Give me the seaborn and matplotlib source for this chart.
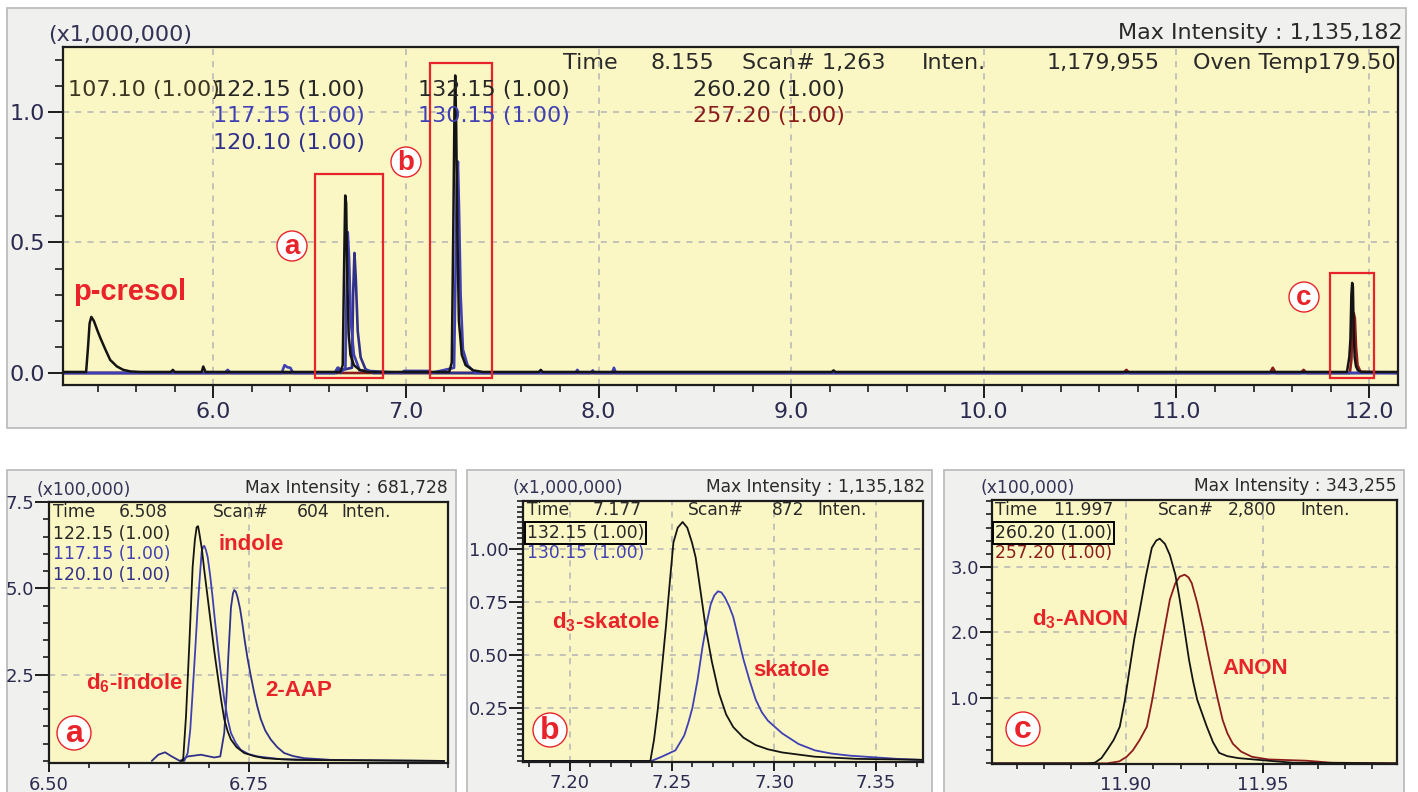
import matplotlib
matplotlib.use("Agg")
import matplotlib.pyplot as plt
import seaborn as sns
from matplotlib.patches import Rectangle, Circle
from matplotlib.ticker import MultipleLocator, FixedLocator, FuncFormatter

# ---------------- data ----------------
# top overview chromatogram, intensity in x1,000,000, time in min
top_black = [(5.22, 0.004), (5.34, 0.004), (5.35, 0.10), (5.358, 0.19), (5.367, 0.215), (5.38, 0.20),
             (5.40, 0.16), (5.414, 0.134), (5.44, 0.09), (5.465, 0.05), (5.50, 0.025), (5.533, 0.012),
             (5.57, 0.006), (5.62, 0.004), (5.78, 0.004), (5.79, 0.012), (5.80, 0.004), (5.94, 0.004),
             (5.948, 0.025), (5.96, 0.004), (6.66, 0.004), (6.672, 0.03), (6.678, 0.35), (6.685, 0.68),
             (6.690, 0.65), (6.696, 0.35), (6.703, 0.15), (6.712, 0.07), (6.73, 0.03), (6.76, 0.012),
             (6.80, 0.004), (7.225, 0.004), (7.238, 0.04), (7.246, 0.55), (7.252, 1.0), (7.256, 1.14),
             (7.261, 0.95), (7.267, 0.55), (7.275, 0.2), (7.29, 0.07), (7.31, 0.03), (7.35, 0.01),
             (7.40, 0.004), (7.69, 0.004), (7.70, 0.012), (7.71, 0.004), (9.21, 0.004), (9.22, 0.01),
             (9.23, 0.004), (11.885, 0.004), (11.897, 0.06), (11.903, 0.13), (11.908, 0.30), (11.912, 0.345),
             (11.916, 0.33), (11.92, 0.16), (11.925, 0.06), (11.932, 0.025), (11.942, 0.01), (11.96, 0.004),
             (12.15, 0.004)]
top_blue = [(5.22, 0.0), (6.06, 0.0), (6.075, 0.012), (6.09, 0.0), (6.355, 0.0), (6.37, 0.03), (6.385, 0.022),
            (6.40, 0.02), (6.415, 0.0), (6.63, 0.0), (6.645, 0.02), (6.66, 0.0), (6.686, 0.02), (6.692, 0.30),
            (6.698, 0.54), (6.705, 0.44), (6.714, 0.20), (6.73, 0.07), (6.76, 0.01), (6.98, 0.0), (6.99, 0.008),
            (7.12, 0.008), (7.13, 0.0), (7.25, 0.02), (7.258, 0.40), (7.264, 0.72), (7.270, 0.81), (7.276, 0.62),
            (7.284, 0.30), (7.296, 0.09), (7.32, 0.03), (7.36, 0.0), (7.88, 0.0), (7.89, 0.012), (7.90, 0.0),
            (7.96, 0.0), (7.97, 0.01), (7.98, 0.0), (8.07, 0.0), (8.08, 0.02), (8.09, 0.0), (12.15, 0.0)]
top_navy = [(5.22, 0.0), (6.64, 0.0), (6.65, 0.02), (6.66, 0.01), (6.72, 0.02), (6.726, 0.30), (6.733, 0.46),
            (6.74, 0.36), (6.75, 0.16), (6.765, 0.06), (6.79, 0.015), (6.83, 0.0), (12.15, 0.0)]
top_red = [(5.22, 0.0), (10.725, 0.0), (10.74, 0.012), (10.755, 0.0), (11.485, 0.0), (11.50, 0.02),
           (11.515, 0.0), (11.645, 0.0), (11.66, 0.012), (11.675, 0.0), (11.90, 0.0), (11.908, 0.05),
           (11.914, 0.2), (11.92, 0.23), (11.926, 0.21), (11.932, 0.1), (11.94, 0.03), (11.955, 0.005),
           (12.15, 0.0)]

# panel a (x100,000)
a_d6_indole = [(6.665, 0.0), (6.668, 0.0), (6.6717, 1.30), (6.6758, 3.36), (6.68, 5.62), (6.6828, 6.40),
               (6.685, 6.77), (6.6868, 6.80), (6.688, 6.65), (6.6915, 6.15), (6.6946, 5.52), (6.699, 4.70),
               (6.703, 3.95), (6.707, 3.20), (6.7113, 2.48), (6.7155, 1.80), (6.7196, 1.21), (6.724, 0.85),
               (6.728, 0.62), (6.735, 0.40), (6.7446, 0.23), (6.757, 0.14), (6.77, 0.08), (6.79, 0.05),
               (6.81, 0.03), (6.995, 0.0)]
a_indole = [(6.6696, 0.0), (6.6738, 0.23), (6.677, 0.90), (6.68, 1.99), (6.6832, 3.20), (6.6863, 4.44),
            (6.6892, 5.40), (6.6913, 6.06), (6.693, 6.20), (6.6946, 6.23), (6.6965, 6.12), (6.6988, 5.91),
            (6.7018, 5.40), (6.705, 4.74), (6.708, 4.05), (6.7113, 3.36), (6.7155, 2.50), (6.7196, 1.79),
            (6.724, 1.20), (6.728, 0.81), (6.734, 0.52), (6.7404, 0.32), (6.750, 0.20), (6.7613, 0.13),
            (6.7904, 0.05), (6.853, 0.03)]
a_2aap = [(6.6288, 0.0), (6.637, 0.18), (6.6454, 0.25), (6.6538, 0.13), (6.664, 0.0), (6.674, 0.13),
          (6.6904, 0.18), (6.707, 0.10), (6.7146, 0.13), (6.7196, 0.81), (6.7225, 1.90), (6.7246, 2.97),
          (6.728, 4.44), (6.7305, 4.85), (6.7321, 4.95), (6.7342, 4.90), (6.7363, 4.74), (6.7395, 4.40),
          (6.7425, 3.95), (6.7455, 3.45), (6.7488, 2.97), (6.753, 2.45), (6.757, 1.99), (6.761, 1.58),
          (6.7654, 1.21), (6.771, 0.88), (6.7779, 0.62), (6.786, 0.40), (6.7946, 0.23), (6.806, 0.14),
          (6.8196, 0.08), (6.853, 0.03), (6.9954, 0.0)]

# panel b (x1,000,000)
b_d3_skatole = [(7.177, 0.0), (7.2394, 0.0), (7.2412, 0.10), (7.243, 0.24), (7.245, 0.43), (7.247, 0.63),
                (7.249, 0.85), (7.2507, 1.03), (7.2528, 1.10), (7.2552, 1.127), (7.2575, 1.10), (7.2598, 1.03),
                (7.2616, 0.96), (7.264, 0.80), (7.2665, 0.63), (7.2695, 0.47), (7.273, 0.32), (7.2765, 0.22),
                (7.280, 0.16), (7.285, 0.11), (7.291, 0.075), (7.297, 0.055), (7.304, 0.04), (7.312, 0.03),
                (7.32, 0.02), (7.34, 0.01), (7.373, 0.005)]
b_skatole = [(7.177, 0.0), (7.24, 0.0), (7.245, 0.02), (7.2517, 0.05), (7.256, 0.12), (7.258, 0.18),
             (7.260, 0.25), (7.2625, 0.38), (7.265, 0.54), (7.267, 0.65), (7.269, 0.74), (7.2707, 0.78),
             (7.2725, 0.80), (7.2742, 0.795), (7.276, 0.77), (7.278, 0.73), (7.28, 0.68), (7.2825, 0.58),
             (7.285, 0.48), (7.288, 0.38), (7.291, 0.29), (7.294, 0.23), (7.297, 0.19), (7.304, 0.13),
             (7.312, 0.08), (7.320, 0.05), (7.328, 0.035), (7.337, 0.025), (7.36, 0.01), (7.373, 0.005)]

# panel c (x100,000)
c_d3_anon = [(11.851, 0.0), (11.886, 0.0), (11.8886, 0.01), (11.891, 0.08), (11.893, 0.2), (11.8955, 0.36),
             (11.8977, 0.56), (11.8995, 0.95), (11.9014, 1.47), (11.903, 1.90), (11.905, 2.34), (11.9072, 2.85),
             (11.9094, 3.29), (11.911, 3.40), (11.9123, 3.43), (11.9142, 3.35), (11.916, 3.18), (11.918, 2.88),
             (11.9196, 2.5), (11.9213, 2.05), (11.923, 1.58), (11.9245, 1.25), (11.926, 0.97), (11.9295, 0.56),
             (11.9318, 0.32), (11.934, 0.16), (11.937, 0.11), (11.941, 0.08), (11.952, 0.04), (11.961, 0.01),
             (11.999, 0.0)]
c_anon = [(11.851, 0.0), (11.893, 0.0), (11.8975, 0.03), (11.9002, 0.10), (11.9025, 0.2), (11.905, 0.36),
          (11.9076, 0.56), (11.9096, 0.98), (11.9116, 1.47), (11.9138, 2.00), (11.916, 2.5), (11.918, 2.75),
          (11.9196, 2.85), (11.9214, 2.88), (11.9228, 2.84), (11.924, 2.75), (11.926, 2.45), (11.928, 2.08),
          (11.9298, 1.70), (11.9317, 1.32), (11.9335, 0.98), (11.9353, 0.66), (11.937, 0.46), (11.939, 0.3),
          (11.942, 0.18), (11.946, 0.1), (11.952, 0.06), (11.966, 0.04), (11.975, 0.01), (11.999, 0.0)]

top_xticks = [6.0, 7.0, 8.0, 9.0, 10.0, 11.0, 12.0]
top_yticks = [0.0, 0.5, 1.0]
a_xticks, a_yticks = [6.50, 6.75], [2.5, 5.0, 7.5]
b_xticks, b_yticks = [7.20, 7.25, 7.30, 7.35], [0.25, 0.50, 0.75, 1.00]
c_xticks, c_yticks = [11.90, 11.95], [1.0, 2.0, 3.0]

# ---------------- style ----------------
sns.set_theme(style="ticks")
plt.rcParams['font.family'] = ['DejaVu Sans']
plt.rcParams['mathtext.fontset'] = 'custom'
plt.rcParams['mathtext.rm'] = 'Liberation Sans:bold'
plt.rcParams['mathtext.bf'] = 'Liberation Sans:bold'

YELLOW = '#fbf7c4'
PANEL = '#f0f0ef'
FRAME = '#1c1c1c'
GRID = '#b4b4b4'
BLACK = '#141414'
BLUE = '#4040b4'
NAVY = '#30308a'
DRED = '#8c1c1c'
RED = '#e8242a'
TXT = '#2a2a2a'
TICKC = '#2b2b4f'

W, H = 1418, 792
fig = plt.figure(figsize=(W / 100, H / 100), dpi=100)
fig.patch.set_facecolor('white')


def fx(px):
    return px / W


def fy(py):
    return 1 - py / H


def box(x0, y0, x1, y1):
    return [fx(x0), fy(y1), (x1 - x0) / W, (y1 - y0) / H]


def panel(x0, y0, x1, y1):
    fig.add_artist(Rectangle((fx(x0), fy(y1)), (x1 - x0) / W, (y1 - y0) / H, transform=fig.transFigure,
                             fc=PANEL, ec='#b8b8b8', lw=1.2, zorder=-5))


def circ(x, y, r, letter, size):
    fig.add_artist(Circle((x / 100, (H - y) / 100), r / 100, transform=fig.dpi_scale_trans,
                          fc='white', ec=RED, lw=1.0, zorder=10))
    fig.text(fx(x), fy(y + 1), letter, ha='center', va='center', color=RED, fontsize=size,
             fontweight='bold', family='Liberation Sans', zorder=11)


def style_ax(ax, xlim, ylim, xt, yt, xminor, yminor, xfmt, yfmt, lsize, ymaj, ymin, xmaj, xmin, ypad, xpad):
    ax.set_facecolor(YELLOW)
    ax.set_xlim(*xlim)
    ax.set_ylim(*ylim)
    ax.xaxis.set_major_locator(FixedLocator(xt))
    ax.yaxis.set_major_locator(FixedLocator(yt))
    ax.xaxis.set_minor_locator(MultipleLocator(xminor))
    ax.yaxis.set_minor_locator(MultipleLocator(yminor))
    ax.xaxis.set_major_formatter(FuncFormatter(lambda v, p: xfmt.format(v)))
    ax.yaxis.set_major_formatter(FuncFormatter(lambda v, p: yfmt.format(v)))
    for s in ax.spines.values():
        s.set_visible(True)
        s.set_color(FRAME)
        s.set_linewidth(1.6)
    ax.tick_params(axis='y', which='major', direction='out', length=ymaj, width=1.4, color=FRAME,
                   labelsize=lsize, labelcolor=TICKC, pad=ypad, left=True)
    ax.tick_params(axis='y', which='minor', direction='out', length=ymin, width=1.2, color=FRAME, left=True)
    ax.tick_params(axis='x', which='major', direction='out', length=xmaj, width=1.4, color=FRAME,
                   labelsize=lsize, labelcolor=TICKC, pad=xpad, bottom=True)
    ax.tick_params(axis='x', which='minor', direction='out', length=xmin, width=1.2, color=FRAME, bottom=True)
    ax.grid(True, which='major', ls=(0, (4, 4)), color=GRID, lw=1.1)
    ax.set_xlabel('')
    ax.set_ylabel('')


def trace(ax, pts, color, lw):
    xs = [p[0] for p in pts]
    ys = [p[1] for p in pts]
    sns.lineplot(x=xs, y=ys, ax=ax, color=color, lw=lw, estimator=None, sort=False, legend=False)


# ---------------- panels ----------------
panel(7, 8, 1406, 428)
panel(7, 470, 456, 800)
panel(467, 470, 932, 800)
panel(944, 470, 1404, 800)

# top
ax = fig.add_axes(box(63, 47, 1398, 385))
style_ax(ax, (5.22, 12.15), (-0.046, 1.249), top_xticks, top_yticks, 0.2, 0.1, '{:.1f}', '{:.1f}',
         16, 11, 6, 9, 5, 2, 3)
trace(ax, top_red, DRED, 1.9)
trace(ax, top_navy, NAVY, 1.9)
trace(ax, top_blue, BLUE, 1.9)
trace(ax, top_black, BLACK, 1.8)
for (x0, x1, y0, y1) in [(6.529, 6.882, -0.019, 0.762), (7.126, 7.448, -0.019, 1.188),
                         (11.797, 12.025, -0.019, 0.383)]:
    ax.add_patch(Rectangle((x0, y0), x1 - x0, y1 - y0, fill=False, ec=RED, lw=1.6, zorder=5, clip_on=False))

fs = 16
fig.text(fx(48), fy(35), '(x1,000,000)', fontsize=fs, color='#333355', va='center')
fig.text(fx(1403), fy(33), 'Max Intensity : 1,135,182', fontsize=fs, color=TXT, va='center', ha='right')
for s, x in [('Time', 563), ('8.155', 651), ('Scan# 1,263', 742), ('Inten.', 922)]:
    fig.text(fx(x), fy(63), s, fontsize=fs, color=TXT, va='center')
fig.text(fx(1160), fy(63), '1,179,955', fontsize=fs, color=TXT, va='center', ha='right')
fig.text(fx(1396), fy(63), 'Oven Temp179.50', fontsize=fs, color=TXT, va='center', ha='right')
for s, x, y, c in [('107.10 (1.00)', 68, 90, '#3d3520'), ('122.15 (1.00)', 213, 90, '#262626'),
                   ('117.15 (1.00)', 213, 116, BLUE), ('120.10 (1.00)', 213, 143, NAVY),
                   ('132.15 (1.00)', 418, 90, '#262626'), ('130.15 (1.00)', 418, 116, BLUE),
                   ('260.20 (1.00)', 693, 90, '#262626'), ('257.20 (1.00)', 693, 116, DRED)]:
    fig.text(fx(x), fy(y), s, fontsize=fs, color=c, va='center')
fig.text(fx(73), fy(292), 'p-cresol', fontsize=21, color=RED, va='center', fontweight='bold',
         family='Liberation Sans')
circ(292, 246, 15, 'a', 20)
circ(406, 162, 15, 'b', 20)
circ(1304, 297, 15, 'c', 20)

# bottom panels
bfs = 12.3
axa = fig.add_axes(box(49, 502, 448, 763))
style_ax(axa, (6.5, 7.0), (-0.06, 7.5), a_xticks, a_yticks, 0.05, 0.5, '{:.2f}', '{:.1f}',
         13, 10, 4.5, 6.5, 3.5, 0.5, 2.5)
trace(axa, a_2aap, NAVY, 1.3)
trace(axa, a_indole, BLUE, 1.3)
trace(axa, a_d6_indole, BLACK, 1.3)

axb = fig.add_axes(box(523, 501, 923, 762))
style_ax(axb, (7.177, 7.373), (-0.005, 1.226), b_xticks, b_yticks, 0.01, 0.025, '{:.2f}', '{:.2f}',
         13, 10, 4.5, 6.5, 3.5, 0.5, 2.5)
trace(axb, b_skatole, BLUE, 1.3)
trace(axb, b_d3_skatole, BLACK, 1.3)

axc = fig.add_axes(box(992, 500, 1397, 764))
style_ax(axc, (11.851, 11.999), (-0.01, 4.02), c_xticks, c_yticks, 0.01, 0.2, '{:.2f}', '{:.1f}',
         13, 9, 4.5, 6.5, 3.5, 0.5, 2.5)
trace(axc, c_anon, DRED, 1.3)
trace(axc, c_d3_anon, BLACK, 1.3)

# panel a texts
fig.text(fx(37), fy(490), '(x100,000)', fontsize=bfs, color='#333355', va='center')
fig.text(fx(448), fy(488), 'Max Intensity : 681,728', fontsize=bfs, color=TXT, va='center', ha='right')
for s, x in [('Time', 53), ('6.508', 119), ('Scan#', 213), ('604', 297), ('Inten.', 341)]:
    fig.text(fx(x), fy(512), s, fontsize=bfs, color=TXT, va='center')
for s, y, c in [('122.15 (1.00)', 534, '#262626'), ('117.15 (1.00)', 554, BLUE), ('120.10 (1.00)', 575, NAVY)]:
    fig.text(fx(53), fy(y), s, fontsize=bfs, color=c, va='center')

# panel b texts
fig.text(fx(512), fy(488), '(x1,000,000)', fontsize=bfs, color='#333355', va='center')
fig.text(fx(925), fy(487), 'Max Intensity : 1,135,182', fontsize=bfs, color=TXT, va='center', ha='right')
for s, x in [('Time', 527), ('7.177', 593), ('Scan#', 688), ('872', 772), ('Inten.', 817)]:
    fig.text(fx(x), fy(510), s, fontsize=bfs, color=TXT, va='center')
fig.text(fx(527), fy(533), '132.15 (1.00)', fontsize=bfs, color='#262626', va='center',
         bbox=dict(boxstyle='square,pad=0.12', fc='none', ec='black', lw=1.4))
fig.text(fx(527), fy(553), '130.15 (1.00)', fontsize=bfs, color=BLUE, va='center')

# panel c texts
fig.text(fx(980), fy(488), '(x100,000)', fontsize=bfs, color='#333355', va='center')
fig.text(fx(1397), fy(486), 'Max Intensity : 343,255', fontsize=bfs, color=TXT, va='center', ha='right')
for s, x in [('Time', 995), ('11.997', 1053), ('Scan#', 1158), ('2,800', 1228), ('Inten.', 1300)]:
    fig.text(fx(x), fy(510), s, fontsize=bfs, color=TXT, va='center')
fig.text(fx(995), fy(533), '260.20 (1.00)', fontsize=bfs, color='#262626', va='center',
         bbox=dict(boxstyle='square,pad=0.12', fc='none', ec='black', lw=1.4))
fig.text(fx(995), fy(553), '257.20 (1.00)', fontsize=bfs, color=DRED, va='center')

# red compound labels
lab = dict(fontsize=16, color=RED, va='center', fontweight='bold', family='Liberation Sans')
fig.text(fx(218), fy(545), 'indole', **lab)
fig.text(fx(86), fy(683), r'd$_{\mathbf{6}}$-indole', **lab)
fig.text(fx(265), fy(690), '2-AAP', **lab)
fig.text(fx(552), fy(622), r'd$_{\mathbf{3}}$-skatole', **lab)
fig.text(fx(753), fy(670), 'skatole', **lab)
fig.text(fx(1032), fy(619), r'd$_{\mathbf{3}}$-ANON', **lab)
fig.text(fx(1222), fy(669), 'ANON', **lab)
circ(74, 733, 17, 'a', 23)
circ(550, 730, 17, 'b', 23)
circ(1023, 729, 17, 'c', 23)

fig.savefig('out.png', dpi=100, facecolor='white')
